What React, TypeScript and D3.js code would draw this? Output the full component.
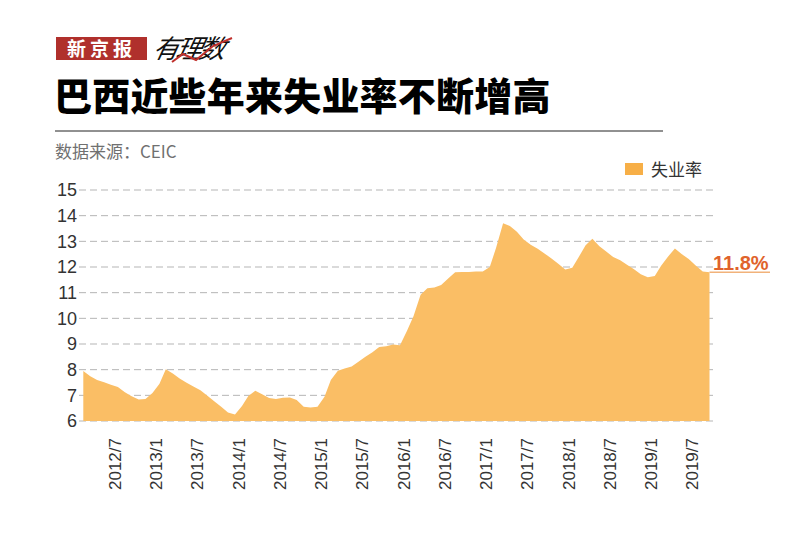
import React from "react";
import * as d3 from "d3";

const startMonth = "2012-03";
const rates = [
  7.95, 7.74, 7.6, 7.51, 7.41, 7.32, 7.12, 6.96, 6.84, 6.86,
  7.09, 7.45, 8.02, 7.85, 7.66, 7.49, 7.34, 7.2, 6.98, 6.77,
  6.56, 6.33, 6.25, 6.58, 6.97, 7.18, 7.04, 6.9, 6.86, 6.91,
  6.92, 6.82, 6.56, 6.53, 6.56, 6.94, 7.6, 7.96, 8.05, 8.12,
  8.31, 8.5, 8.68, 8.88, 8.91, 8.98, 8.95, 9.52, 10.09, 10.92,
  11.17, 11.2, 11.3, 11.55, 11.8, 11.81, 11.81, 11.82, 11.82, 12.0,
  12.75, 13.7, 13.6, 13.37, 13.07, 12.87, 12.71, 12.53, 12.33, 12.13,
  11.9, 11.97, 12.38, 12.85, 13.1, 12.81, 12.6, 12.39, 12.26, 12.09,
  11.91, 11.72, 11.6, 11.65, 12.05, 12.41, 12.72, 12.5, 12.31, 12.06,
  11.82, 11.8,
];
const yTicks = [6, 7, 8, 9, 10, 11, 12, 13, 14, 15];
const seriesName = "失业率";
const lastLabel = "11.8%";
const title = "巴西近些年来失业率不断增高";
const source = "数据来源：CEIC";

const parseMonth = d3.timeParse("%Y-%m");
const start = parseMonth(startMonth) as Date;
const data = rates.map((v, i) => ({ date: d3.timeMonth.offset(start, i), value: v }));

export default function App() {
  const W = 800, H = 542;
  const x = d3
    .scaleTime()
    .domain([data[0].date, data[data.length - 1].date])
    .range([83.3, 709.5]);
  const y = d3.scaleLinear().domain([6, 15]).range([421, 190]);
  const area = d3
    .area<{ date: Date; value: number }>()
    .x((d) => x(d.date))
    .y0(y(6))
    .y1((d) => y(d.value));
  const xTicks = x.ticks(d3.timeMonth.every(6) as any).filter((d) => d >= d3.timeMonth.offset(start, 4));
  const fmt = (d: Date) => `${d.getFullYear()}/${d.getMonth() + 1}`;
  const last = data[data.length - 1];
  const font = "'Liberation Sans', Arial, sans-serif";
  const cjk = "'Noto Sans CJK SC', 'Noto Sans', sans-serif";

  return (
    <svg width={W} height={H} style={{ position: "absolute", left: 0, top: 0, background: "#fff" }}>
      <rect x={0} y={0} width={W} height={H} fill="#fff" />
      {/* logo */}
      <rect x={56} y={37} width={91} height={23} fill="#b0302c" />
      <text x={101.5} y={55.5} textAnchor="middle" fill="#fff" fontFamily={cjk} fontWeight={700} fontSize={19} letterSpacing={4}>
        新京报
      </text>
      <text x={152} y={58} fill="#111" fontFamily={cjk} fontSize={26} fontStyle="italic" transform="skewX(-12) translate(12,0)" letterSpacing={-3}>
        有理数
      </text>
      <path d="M172,62 L183,54 L196,60 L213,46 L232,38" fill="none" stroke="#c0302c" strokeWidth={2} />
      {/* title */}
      <text x={54} y={110} fill="#000" fontFamily={cjk} fontWeight={900} fontSize={38} letterSpacing={0.2}>
        {title}
      </text>
      <line x1={55} x2={663} y1={131} y2={131} stroke="#222" strokeWidth={1} />
      <text x={55} y={158} fill="#707070" fontFamily={cjk} fontSize={17}>
        {source}
      </text>
      {/* legend */}
      <rect x={625} y={163} width={18} height={12} fill="#f7af47" />
      <text x={651} y={175.5} fill="#333" fontFamily={cjk} fontSize={17}>
        {seriesName}
      </text>
      {/* grid */}
      {yTicks.map((t) => (
        <line key={t} x1={79} x2={713} y1={y(t)} y2={y(t)} stroke="#b5b5b5" strokeWidth={1} strokeDasharray="7,4" />
      ))}
      {/* area */}
      <path d={area(data) || ""} fill="#fabe65" />
      {/* y labels */}
      {yTicks.map((t) => (
        <text key={t} x={77} y={y(t)} dy="0.36em" textAnchor="end" fill="#333" fontFamily={font} fontSize={18}>
          {t}
        </text>
      ))}
      {/* x labels */}
      {xTicks.map((d) => (
        <text
          key={+d}
          transform={`translate(${x(d) + 3.5},438) rotate(-90)`}
          dy="0.36em"
          textAnchor="end"
          fill="#333"
          fontFamily={font}
          fontSize={17}
        >
          {fmt(d)}
        </text>
      ))}
      {/* last label */}
      <line x1={x(last.date)} x2={770} y1={y(last.value)} y2={y(last.value)} stroke="#f1b27a" strokeWidth={1.5} />
      <text x={713} y={270} fill="#e0632c" fontFamily={font} fontWeight={700} fontSize={20}>
        {lastLabel}
      </text>
    </svg>
  );
}
